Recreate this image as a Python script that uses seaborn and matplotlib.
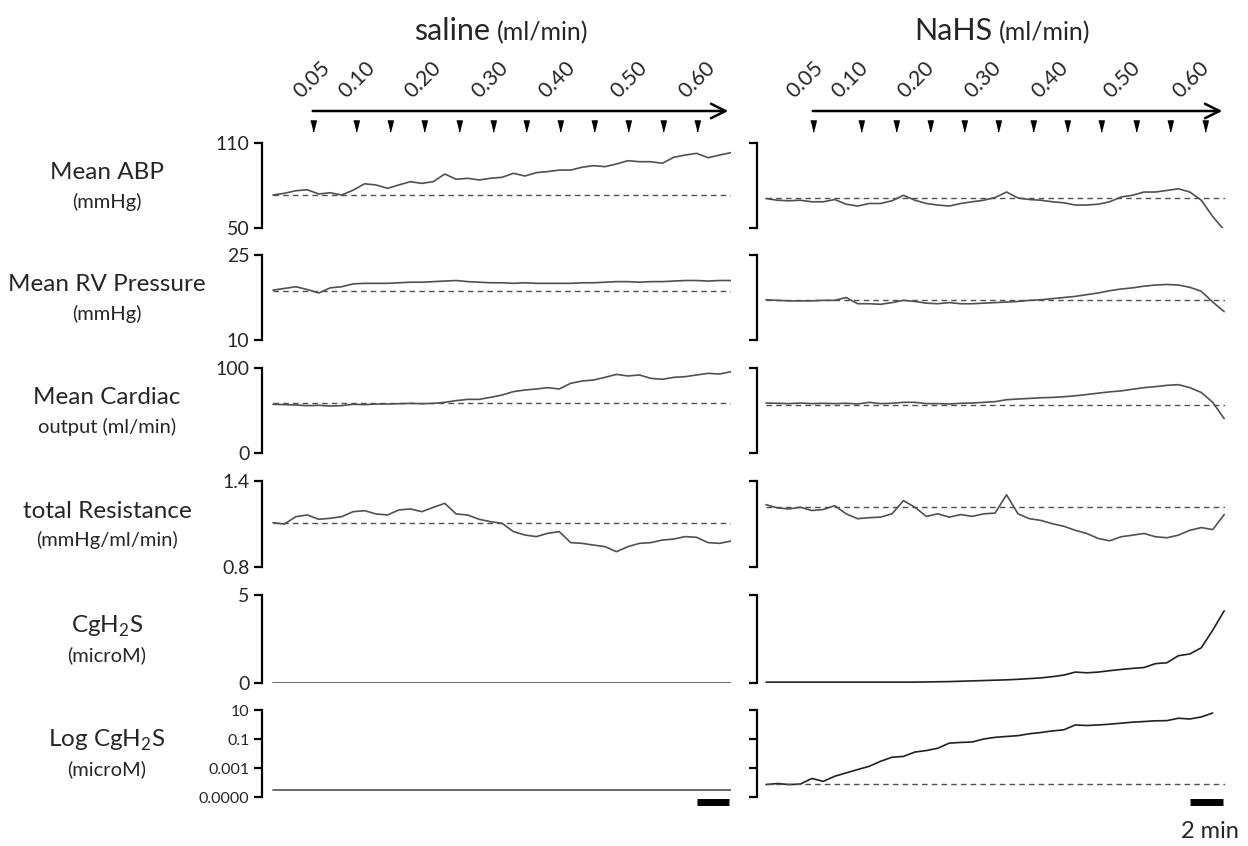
import numpy as np
import seaborn as sns
import matplotlib.pyplot as plt

# sample times (min), one every 0.7 min
t = [0.0, 0.7, 1.4, 2.1, 2.8, 3.5, 4.2, 4.9, 5.6, 6.3, 7.0, 7.7, 8.4, 9.1, 9.8,
     10.5, 11.2, 11.9, 12.6, 13.3, 14.0, 14.7, 15.4, 16.1, 16.8, 17.5, 18.2,
     18.9, 19.6, 20.3, 21.0, 21.7, 22.4, 23.1, 23.8, 24.5, 25.2, 25.9, 26.6,
     27.3, 28.0]

# saline panel
sal_abp = [73.3, 74.5, 76.3, 77.0, 74.0, 74.9, 73.3, 76.7, 81.2, 80.4, 78.0, 80.4, 82.7, 81.5,
           82.7, 88.1, 84.4, 85.1, 83.9, 85.1, 85.8, 88.6, 86.7, 89.1, 89.8, 90.9, 90.9, 92.9,
           94.0, 93.3, 95.2, 97.5, 96.8, 96.8, 95.7, 99.9, 101.5, 102.7, 99.6, 101.5, 103.2]
sal_rv = [18.8, 19.1, 19.4, 18.9, 18.3, 19.2, 19.4, 19.9, 20.0, 20.0, 20.0, 20.1, 20.2, 20.2,
          20.3, 20.4, 20.5, 20.3, 20.2, 20.1, 20.1, 20.0, 20.1, 20.0, 20.0, 20.0, 20.0, 20.1,
          20.1, 20.2, 20.3, 20.3, 20.2, 20.3, 20.3, 20.4, 20.5, 20.5, 20.4, 20.5, 20.5]
sal_co = [57.3, 56.9, 56.5, 55.7, 56.1, 55.3, 55.7, 57.3, 56.9, 57.6, 57.6, 58.0, 58.4, 58.0,
          58.4, 59.6, 61.6, 63.1, 63.1, 65.5, 68.2, 72.2, 74.1, 75.3, 76.9, 75.3, 82.0, 84.7,
          85.9, 89.0, 92.5, 90.6, 91.8, 87.8, 86.7, 89.0, 89.8, 91.8, 93.7, 92.9, 95.7]
sal_res = [1.109, 1.100, 1.151, 1.163, 1.133, 1.140, 1.151, 1.186, 1.193, 1.170, 1.163, 1.198,
           1.205, 1.186, 1.216, 1.244, 1.170, 1.163, 1.133, 1.116, 1.105, 1.047, 1.023, 1.012,
           1.035, 1.047, 0.970, 0.965, 0.953, 0.942, 0.907, 0.942, 0.965, 0.970, 0.988, 0.995,
           1.012, 1.007, 0.970, 0.965, 0.981]
sal_flat_t = [0.0, 28.0]
sal_h2s = [0.0, 0.0]
sal_logh2s = [3.2e-5, 3.2e-5]

# NaHS panel
nahs_abp = [70.8, 69.6, 69.2, 69.6, 68.5, 68.5, 70.1, 66.8, 65.5, 67.3, 67.3, 69.2, 73.1, 69.6,
            67.3, 66.2, 65.5, 67.3, 68.5, 69.6, 71.5, 75.4, 71.2, 70.1, 69.6, 68.5, 67.8, 66.2,
            66.2, 66.8, 68.5, 71.9, 73.1, 75.4, 75.4, 76.5, 77.7, 75.4, 69.6, 58.1, 48.5]
nahs_rv = [17.1, 17.0, 16.9, 16.9, 16.9, 17.0, 17.0, 17.5, 16.4, 16.4, 16.3, 16.6, 17.0, 16.8,
           16.5, 16.4, 16.6, 16.4, 16.4, 16.5, 16.6, 16.7, 16.8, 17.0, 17.1, 17.3, 17.5, 17.7,
           18.0, 18.3, 18.7, 19.0, 19.2, 19.5, 19.7, 19.8, 19.7, 19.3, 18.6, 16.7, 15.0]
nahs_co = [58.8, 58.5, 58.1, 58.8, 58.1, 58.5, 58.1, 58.5, 57.7, 59.6, 58.1, 58.5, 59.6, 59.6,
           58.1, 58.1, 57.7, 58.5, 58.8, 59.6, 60.4, 62.7, 63.5, 64.2, 65.0, 65.4, 66.2, 67.3,
           68.8, 70.4, 71.9, 73.1, 75.0, 76.9, 78.1, 79.6, 80.4, 76.9, 71.2, 59.6, 40.4]
nahs_res = [1.235, 1.212, 1.205, 1.217, 1.194, 1.201, 1.228, 1.171, 1.137, 1.144, 1.148, 1.171,
            1.263, 1.217, 1.153, 1.171, 1.148, 1.166, 1.153, 1.171, 1.176, 1.304, 1.171, 1.137,
            1.125, 1.102, 1.084, 1.056, 1.034, 0.999, 0.983, 1.011, 1.022, 1.034, 1.011, 1.004,
            1.022, 1.056, 1.075, 1.061, 1.166]
nahs_h2s = [0.05, 0.05, 0.05, 0.05, 0.05, 0.05, 0.05, 0.05, 0.05, 0.05, 0.05, 0.05, 0.05, 0.05,
            0.06, 0.07, 0.08, 0.10, 0.12, 0.14, 0.16, 0.18, 0.21, 0.25, 0.29, 0.36, 0.45, 0.62,
            0.58, 0.62, 0.70, 0.77, 0.83, 0.88, 1.10, 1.15, 1.55, 1.65, 2.00, 3.00, 4.10]
nahs_logh2s = [7.2e-5, 8.5e-5, 7.2e-5, 7.8e-5, 1.9e-4, 1.2e-4, 2.7e-4, 4.6e-4, 7.8e-4, 1.3e-3,
               2.9e-3, 5.5e-3, 6.3e-3, 0.0126, 0.016, 0.023, 0.052, 0.058, 0.062, 0.10, 0.13,
               0.15, 0.17, 0.23, 0.28, 0.36, 0.43, 0.93, 0.85, 0.93, 1.05, 1.23, 1.45, 1.6, 1.8,
               1.85, 2.7, 2.4, 3.3, 6.2]

# baselines (dashed), None = no baseline
sal_base = [73.3, 18.7, 58.4, 1.107, None, None]
nahs_base = [71.2, 17.0, 56.5, 1.22, None, 7.3e-5]

# infusion steps (min) and rate labels
sal_marks = [2.44, 5.07, 7.15, 9.23, 11.37, 13.45, 15.46, 17.54, 19.62, 21.70, 23.84, 25.92]
nahs_marks = [2.87, 5.80, 7.95, 10.0, 12.1, 14.2, 16.3, 18.4, 20.5, 22.6, 24.7, 26.8]
rate_labels = ["0.05", "0.10", "0.20", "0.30", "0.40", "0.50", "0.60"]
rate_label_t = [1.75, 4.5, 8.5, 12.6, 16.7, 21.1, 25.3]

row_names = [("Mean ABP", "(mmHg)"), ("Mean RV Pressure", "(mmHg)"),
             ("Mean Cardiac", "output (ml/min)"), ("total Resistance", "(mmHg/ml/min)"),
             (r"CgH$_\mathregular{2}$S", "(microM)"), (r"Log CgH$_\mathregular{2}$S", "(microM)")]
row_lims = [(50, 110), (10, 25), (0, 100), (0.8, 1.4), (0, 5), (1e-5, 10)]
row_ticklabels = [["50", "110"], ["10", "25"], ["0", "100"], ["0.8", "1.4"], ["0", "5"],
                  ["0.0000", "0.001", "0.1", "10"]]

sns.set_theme(style="white")
plt.rcParams['font.family'] = ['Lato', 'DejaVu Sans']
plt.rcParams['mathtext.fontset'] = 'custom'
plt.rcParams['mathtext.rm'] = 'Lato'

W, H = 1248, 846
fig = plt.figure(figsize=(W / 100, H / 100), dpi=100)


def box(x0, y0, x1, y1):
    return [x0 / W, 1 - y1 / H, (x1 - x0) / W, (y1 - y0) / H]


rows_px = [(143, 228), (255, 340), (368, 453), (481, 567), (595, 683), (710, 797)]
panels = [
    dict(x0=262, x1=731, xlim=(-0.67, 28.0), marks=sal_marks, arrow=(2.26, 28.0),
         series=[sal_abp, sal_rv, sal_co, sal_res, sal_h2s, sal_logh2s], base=sal_base,
         labels=True, title="saline", tx=490),
    dict(x0=757, x1=1225, xlim=(-0.55, 28.05), marks=nahs_marks, arrow=(2.69, 28.05),
         series=[nahs_abp, nahs_rv, nahs_co, nahs_res, nahs_h2s, nahs_logh2s], base=nahs_base,
         labels=False, title="NaHS", tx=992),
]
trace_col = "#505050"

for p in panels:
    for r, (y0, y1) in enumerate(rows_px):
        ax = fig.add_axes(box(p["x0"], y0, p["x1"], y1))
        vals = p["series"][r]
        if len(vals) == 2:
            tt = sal_flat_t
        else:
            tt = t[:len(vals)]
        dark = (not p["labels"]) and r >= 4
        sns.lineplot(x=tt, y=vals, ax=ax, color="#202020" if dark else trace_col,
                     lw=1.2, estimator=None, sort=False)
        if p["base"][r] is not None:
            ax.hlines(p["base"][r], 0, p["xlim"][1], colors="#505050",
                      linestyles=(0, (4, 3)), lw=1.0)
        if r == 5:
            ax.set_yscale("log")
            ticks = [1e-5, 1e-3, 1e-1, 10]
            ax.minorticks_off()
        else:
            ticks = list(row_lims[r])
        ax.set_ylim(*row_lims[r])
        ax.set_xlim(*p["xlim"])
        ax.set_yticks(ticks)
        fs = 11.5 if r == 5 else 14
        ax.set_yticklabels(row_ticklabels[r] if p["labels"] else [""] * len(ticks), fontsize=fs)
        ax.set_xticks([])
        for s in ["top", "right", "bottom"]:
            ax.spines[s].set_visible(False)
        ax.spines["left"].set_linewidth(1.6)
        ax.spines["left"].set_color("black")
        ax.tick_params(axis="y", length=6, width=1.6, color="black", pad=3, left=True)
        ax.set_xlabel("")
        ax.set_ylabel("")
        ax.patch.set_alpha(0)
        if r == 5:
            ax.plot([25.9, 27.9], [-0.06, -0.06], transform=ax.get_xaxis_transform(),
                    color="black", lw=5, solid_capstyle="butt", clip_on=False)

    # infusion arrow and step markers
    top = fig.add_axes(box(p["x0"], 60, p["x1"], 135))
    top.set_xlim(*p["xlim"])
    top.set_ylim(0, 1)
    top.axis("off")
    top.annotate("", xy=(p["arrow"][1], 0.32), xytext=(p["arrow"][0], 0.32),
                 arrowprops=dict(arrowstyle="->", lw=1.8, color="black", mutation_scale=26))
    top.plot(p["marks"], [0.12] * len(p["marks"]), ls="", color="black",
             marker=[(-2.5, 5), (2.5, 5), (0, -5)], markersize=8)
    for lt, lab in zip(rate_label_t, rate_labels):
        top.text(lt, 0.48, lab, rotation=45, rotation_mode="anchor", ha="left",
                 va="baseline", fontsize=15.5)

    fig.text(p["tx"] / W, 1 - 40 / H, p["title"], ha="right", va="baseline", fontsize=22)
    fig.text((p["tx"] + 7) / W, 1 - 40 / H, "(ml/min)", ha="left", va="baseline", fontsize=18)

# row labels
for (a, b), (y0, y1) in zip(row_names, rows_px):
    c = (y0 + y1) / 2
    fig.text(107 / W, 1 - (c - 13) / H, a, ha="center", va="center", fontsize=17.5)
    fig.text(107 / W, 1 - (c + 16) / H, b, ha="center", va="center", fontsize=14.5)

fig.text(1210 / W, 1 - 831 / H, "2 min", ha="center", va="center", fontsize=17)

fig.savefig("out.png", dpi=100)
